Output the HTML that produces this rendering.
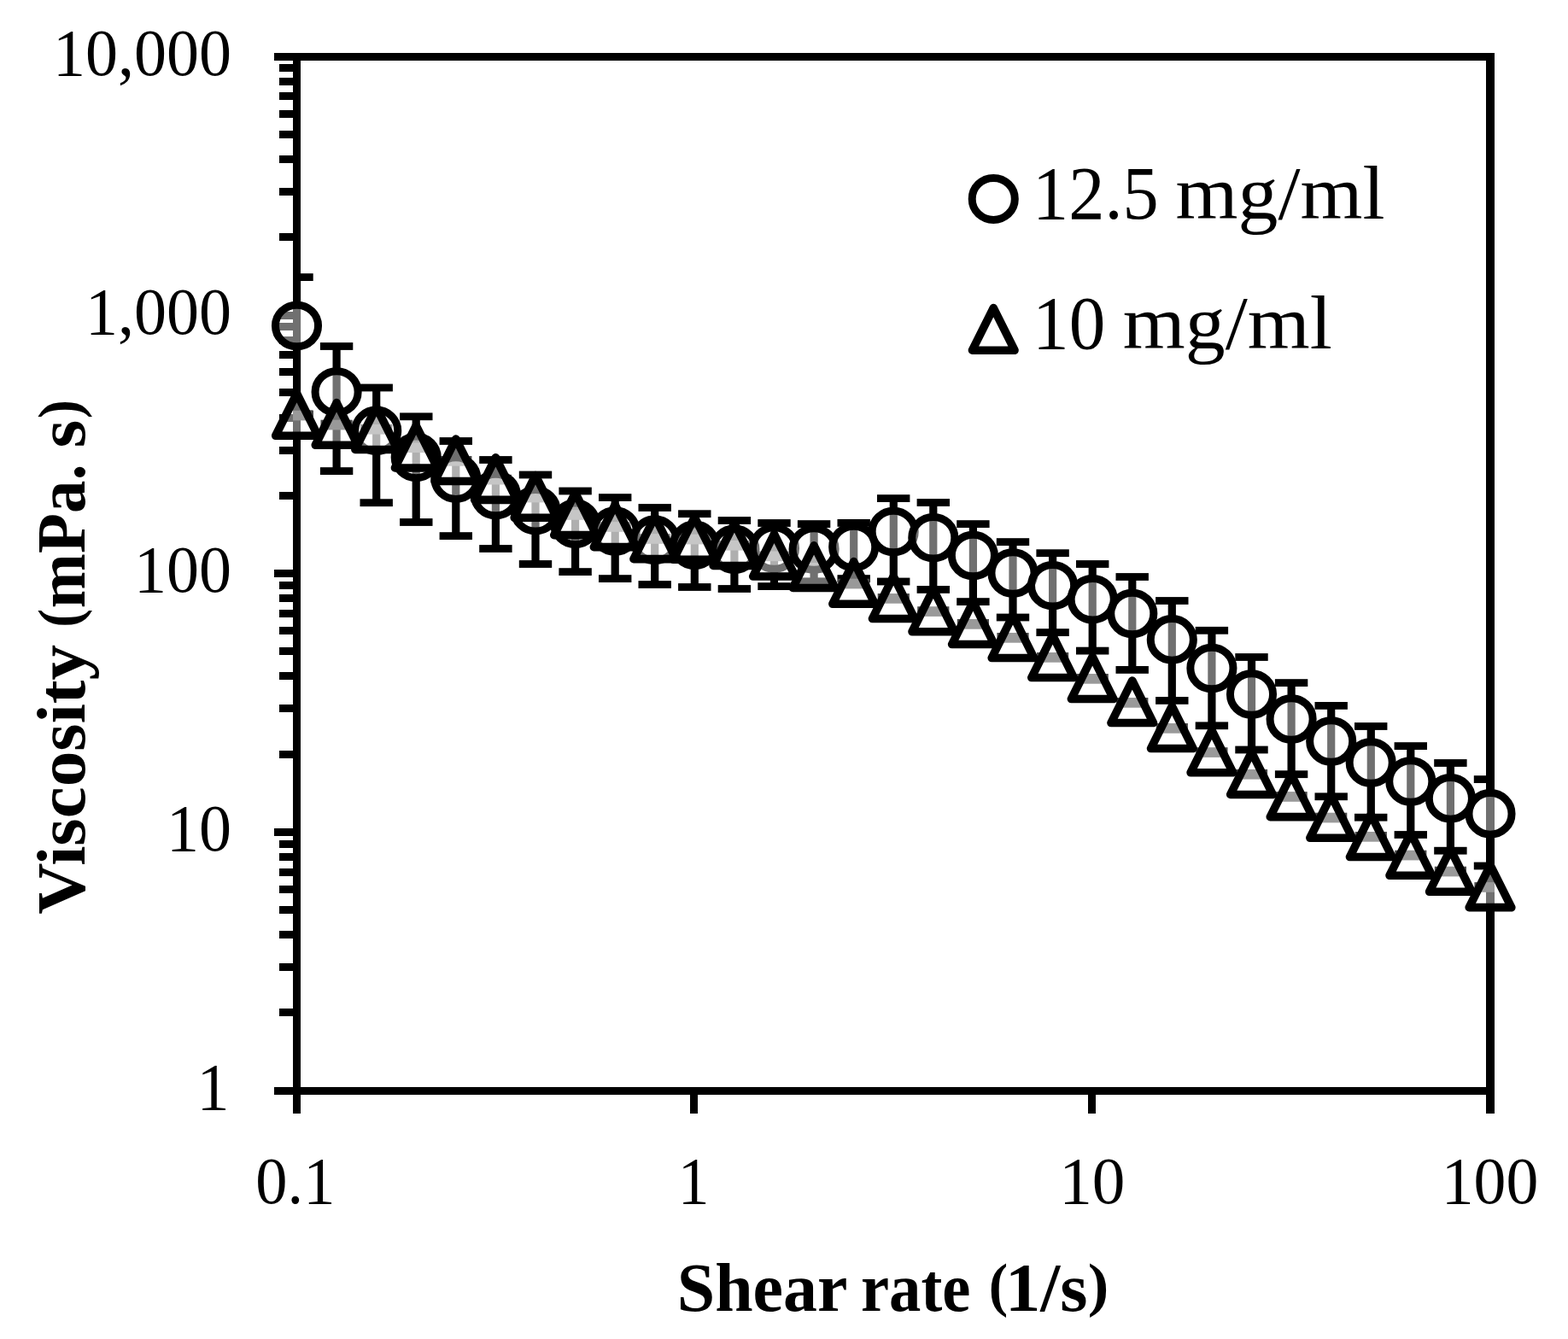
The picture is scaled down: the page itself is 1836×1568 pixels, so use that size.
<!DOCTYPE html>
<html lang="en"><head><meta charset="utf-8"><title>Viscosity vs shear rate</title>
<style>html,body{margin:0;padding:0;background:#fff}body{width:1836px;height:1568px}svg{display:block}text{font-family:"Liberation Serif","DejaVu Serif",serif;fill:#000}.b{font-weight:bold}</style></head><body>
<svg width="1836" height="1568" viewBox="0 0 1836 1568">
<rect width="1836" height="1568" fill="#fff"/>
<defs><clipPath id="pa"><rect x="343" y="62" width="1407" height="1220"/></clipPath></defs>
<g fill="#000" shape-rendering="crispEdges">
<rect x="343" y="62" width="1407" height="9"/>
<rect x="343" y="1273" width="1407" height="9"/>
<rect x="343" y="62" width="9" height="1220"/>
<rect x="1740" y="62" width="10" height="1242"/>
<rect x="321" y="62" width="24" height="9"/>
<rect x="327" y="273" width="18" height="9"/>
<rect x="327" y="220" width="18" height="9"/>
<rect x="327" y="182" width="18" height="9"/>
<rect x="327" y="153" width="18" height="9"/>
<rect x="327" y="129" width="18" height="9"/>
<rect x="327" y="108" width="18" height="9"/>
<rect x="327" y="91" width="18" height="9"/>
<rect x="327" y="75" width="18" height="9"/>
<rect x="325" y="365" width="20" height="9"/>
<rect x="327" y="576" width="18" height="9"/>
<rect x="327" y="523" width="18" height="9"/>
<rect x="327" y="485" width="18" height="9"/>
<rect x="327" y="455" width="18" height="9"/>
<rect x="327" y="431" width="18" height="9"/>
<rect x="327" y="411" width="18" height="9"/>
<rect x="327" y="394" width="18" height="9"/>
<rect x="327" y="378" width="18" height="9"/>
<rect x="321" y="667" width="24" height="9"/>
<rect x="327" y="879" width="18" height="9"/>
<rect x="327" y="825" width="18" height="9"/>
<rect x="327" y="787" width="18" height="9"/>
<rect x="327" y="758" width="18" height="9"/>
<rect x="327" y="734" width="18" height="9"/>
<rect x="327" y="714" width="18" height="9"/>
<rect x="327" y="696" width="18" height="9"/>
<rect x="327" y="681" width="18" height="9"/>
<rect x="321" y="970" width="24" height="9"/>
<rect x="327" y="1181" width="18" height="9"/>
<rect x="327" y="1128" width="18" height="9"/>
<rect x="327" y="1090" width="18" height="9"/>
<rect x="327" y="1061" width="18" height="9"/>
<rect x="327" y="1037" width="18" height="9"/>
<rect x="327" y="1017" width="18" height="9"/>
<rect x="327" y="999" width="18" height="9"/>
<rect x="327" y="984" width="18" height="9"/>
<rect x="321" y="1273" width="24" height="9"/>
<rect x="343" y="1273" width="9" height="31"/>
<rect x="808" y="1273" width="9" height="31"/>
<rect x="1274" y="1273" width="9" height="31"/>
</g>
<text transform="translate(271.00,87.80) scale(1.014,1.032)" font-size="75" text-anchor="end">10,000</text>
<text transform="translate(271.00,390.55) scale(1.014,1.032)" font-size="75" text-anchor="end">1,000</text>
<text transform="translate(271.00,693.30) scale(1.014,1.032)" font-size="75" text-anchor="end">100</text>
<text transform="translate(271.00,996.05) scale(1.014,1.032)" font-size="75" text-anchor="end">10</text>
<text transform="translate(268.50,1298.80) scale(1.014,1.032)" font-size="75" text-anchor="end">1</text>
<text transform="translate(345.90,1409.30) scale(0.993,1.032)" font-size="75" text-anchor="middle">0.1</text>
<text transform="translate(812.13,1409.30) scale(0.98,1.032)" font-size="75" text-anchor="middle">1</text>
<text transform="translate(1278.87,1409.30) scale(1.03,1.032)" font-size="75" text-anchor="middle">10</text>
<text transform="translate(1744.50,1409.30) scale(1.01,1.032)" font-size="75" text-anchor="middle">100</text>
<text class="b" xml:space="preserve" transform="translate(0,1534.7) scale(1,1.06)" font-size="75"><tspan x="792.83" y="0" textLength="218.00" lengthAdjust="spacingAndGlyphs">Shear </tspan><tspan x="1008.00" y="0" textLength="147.10" lengthAdjust="spacingAndGlyphs">rate </tspan><tspan x="1157.80" y="-6.1" textLength="22.40" lengthAdjust="spacingAndGlyphs" font-size="65">(</tspan><tspan x="1176.90" y="0" textLength="96.60" lengthAdjust="spacingAndGlyphs">1/s</tspan><tspan x="1273.70" y="-6.1" textLength="24.60" lengthAdjust="spacingAndGlyphs" font-size="65">)</tspan></text>
<text class="b" xml:space="preserve" transform="translate(99,1070.4) rotate(-90) scale(1,1.06)" font-size="75"><tspan x="-0.40" y="0" textLength="336.80" lengthAdjust="spacingAndGlyphs">Viscosity </tspan><tspan x="335.70" y="-6.1" textLength="21.90" lengthAdjust="spacingAndGlyphs" font-size="65">(</tspan><tspan x="358.20" y="0" textLength="188.10" lengthAdjust="spacingAndGlyphs">mPa. </tspan><tspan x="546.00" y="0" textLength="32.90" lengthAdjust="spacingAndGlyphs">s</tspan><tspan x="580.10" y="-6.1" textLength="22.30" lengthAdjust="spacingAndGlyphs" font-size="65">)</tspan></text>
<ellipse cx="1163.25" cy="232.9" rx="25.05" ry="24.5" fill="none" stroke="#000" stroke-width="9"/>
<path d="M1163.25 360.6 L1188.05 410.2 L1138.45 410.2 Z" fill="none" stroke="#000" stroke-width="9.6" stroke-linejoin="round"/>
<text xml:space="preserve" transform="translate(0,256) scale(1,1.065)" font-size="83.33"><tspan x="1209.10" y="0" textLength="168.60" lengthAdjust="spacingAndGlyphs">12.5 </tspan><tspan x="1376.50" y="0" textLength="245.00" lengthAdjust="spacingAndGlyphs">mg/ml</tspan></text>
<text xml:space="preserve" transform="translate(0,408.4) scale(1,1.065)" font-size="83.33"><tspan x="1209.00" y="0" textLength="106.60" lengthAdjust="spacingAndGlyphs">10 </tspan><tspan x="1314.75" y="0" textLength="245.00" lengthAdjust="spacingAndGlyphs">mg/ml</tspan></text>
<g clip-path="url(#pa)" fill="#000">
<rect x="342.9" y="324.6" width="9.2" height="160.4"/>
<rect x="328.3" y="320.2" width="38.4" height="8.8"/>
<rect x="328.3" y="480.6" width="38.4" height="8.8"/>
<rect x="389.5" y="405.5" width="9.2" height="146.1"/>
<rect x="374.9" y="401.1" width="38.4" height="8.8"/>
<rect x="374.9" y="547.2" width="38.4" height="8.8"/>
<rect x="436.1" y="454.0" width="9.2" height="134.7"/>
<rect x="421.5" y="449.6" width="38.4" height="8.8"/>
<rect x="421.5" y="584.3" width="38.4" height="8.8"/>
<rect x="482.6" y="487.8" width="9.2" height="123.7"/>
<rect x="468.1" y="483.4" width="38.4" height="8.8"/>
<rect x="468.1" y="607.1" width="38.4" height="8.8"/>
<rect x="529.2" y="516.5" width="9.2" height="111.1"/>
<rect x="514.6" y="512.1" width="38.4" height="8.8"/>
<rect x="514.6" y="623.2" width="38.4" height="8.8"/>
<rect x="575.8" y="538.5" width="9.2" height="104.0"/>
<rect x="561.2" y="534.1" width="38.4" height="8.8"/>
<rect x="561.2" y="638.1" width="38.4" height="8.8"/>
<rect x="622.4" y="556.0" width="9.2" height="104.5"/>
<rect x="607.8" y="551.6" width="38.4" height="8.8"/>
<rect x="607.8" y="656.1" width="38.4" height="8.8"/>
<rect x="669.0" y="575.0" width="9.2" height="94.6"/>
<rect x="654.4" y="570.6" width="38.4" height="8.8"/>
<rect x="654.4" y="665.2" width="38.4" height="8.8"/>
<rect x="715.6" y="582.6" width="9.2" height="95.0"/>
<rect x="701.0" y="578.2" width="38.4" height="8.8"/>
<rect x="701.0" y="673.2" width="38.4" height="8.8"/>
<rect x="762.1" y="594.5" width="9.2" height="90.0"/>
<rect x="747.5" y="590.1" width="38.4" height="8.8"/>
<rect x="747.5" y="680.1" width="38.4" height="8.8"/>
<rect x="808.7" y="601.7" width="9.2" height="85.8"/>
<rect x="794.1" y="597.3" width="38.4" height="8.8"/>
<rect x="794.1" y="683.1" width="38.4" height="8.8"/>
<rect x="855.3" y="609.5" width="9.2" height="80.0"/>
<rect x="840.7" y="605.1" width="38.4" height="8.8"/>
<rect x="840.7" y="685.1" width="38.4" height="8.8"/>
<rect x="901.9" y="612.5" width="9.2" height="74.1"/>
<rect x="887.3" y="608.1" width="38.4" height="8.8"/>
<rect x="887.3" y="682.2" width="38.4" height="8.8"/>
<rect x="948.5" y="613.6" width="9.2" height="67.2"/>
<rect x="933.9" y="609.2" width="38.4" height="8.8"/>
<rect x="933.9" y="676.4" width="38.4" height="8.8"/>
<rect x="995.1" y="612.4" width="9.2" height="65.2"/>
<rect x="980.5" y="608.0" width="38.4" height="8.8"/>
<rect x="980.5" y="673.2" width="38.4" height="8.8"/>
<rect x="1041.7" y="583.6" width="9.2" height="97.4"/>
<rect x="1027.0" y="579.2" width="38.4" height="8.8"/>
<rect x="1027.0" y="676.6" width="38.4" height="8.8"/>
<rect x="1088.2" y="588.5" width="9.2" height="101.9"/>
<rect x="1073.6" y="584.1" width="38.4" height="8.8"/>
<rect x="1073.6" y="686.0" width="38.4" height="8.8"/>
<rect x="1134.8" y="613.6" width="9.2" height="91.0"/>
<rect x="1120.2" y="609.2" width="38.4" height="8.8"/>
<rect x="1120.2" y="700.2" width="38.4" height="8.8"/>
<rect x="1181.4" y="634.6" width="9.2" height="88.4"/>
<rect x="1166.8" y="630.2" width="38.4" height="8.8"/>
<rect x="1166.8" y="718.6" width="38.4" height="8.8"/>
<rect x="1228.0" y="647.7" width="9.2" height="92.9"/>
<rect x="1213.4" y="643.3" width="38.4" height="8.8"/>
<rect x="1213.4" y="736.2" width="38.4" height="8.8"/>
<rect x="1274.6" y="660.5" width="9.2" height="101.6"/>
<rect x="1260.0" y="656.1" width="38.4" height="8.8"/>
<rect x="1260.0" y="757.7" width="38.4" height="8.8"/>
<rect x="1321.2" y="675.5" width="9.2" height="108.9"/>
<rect x="1306.5" y="671.1" width="38.4" height="8.8"/>
<rect x="1306.5" y="780.0" width="38.4" height="8.8"/>
<rect x="1367.7" y="703.5" width="9.2" height="116.9"/>
<rect x="1353.1" y="699.1" width="38.4" height="8.8"/>
<rect x="1353.1" y="816.0" width="38.4" height="8.8"/>
<rect x="1414.3" y="738.3" width="9.2" height="111.5"/>
<rect x="1399.7" y="733.9" width="38.4" height="8.8"/>
<rect x="1399.7" y="845.4" width="38.4" height="8.8"/>
<rect x="1460.9" y="769.5" width="9.2" height="108.5"/>
<rect x="1446.3" y="765.1" width="38.4" height="8.8"/>
<rect x="1446.3" y="873.6" width="38.4" height="8.8"/>
<rect x="1507.5" y="799.6" width="9.2" height="107.1"/>
<rect x="1492.9" y="795.2" width="38.4" height="8.8"/>
<rect x="1492.9" y="902.3" width="38.4" height="8.8"/>
<rect x="1554.1" y="826.4" width="9.2" height="106.4"/>
<rect x="1539.5" y="822.0" width="38.4" height="8.8"/>
<rect x="1539.5" y="928.4" width="38.4" height="8.8"/>
<rect x="1600.7" y="850.5" width="9.2" height="106.7"/>
<rect x="1586.0" y="846.1" width="38.4" height="8.8"/>
<rect x="1586.0" y="952.8" width="38.4" height="8.8"/>
<rect x="1647.2" y="873.6" width="9.2" height="103.9"/>
<rect x="1632.6" y="869.2" width="38.4" height="8.8"/>
<rect x="1632.6" y="973.1" width="38.4" height="8.8"/>
<rect x="1693.8" y="893.5" width="9.2" height="102.7"/>
<rect x="1679.2" y="889.1" width="38.4" height="8.8"/>
<rect x="1679.2" y="991.8" width="38.4" height="8.8"/>
<rect x="1740.4" y="912.6" width="9.2" height="101.4"/>
<rect x="1725.8" y="908.2" width="38.4" height="8.8"/>
<rect x="1725.8" y="1009.6" width="38.4" height="8.8"/>
</g>
<g clip-path="url(#pa)" fill="#494949">
<rect x="328.9" y="480.7" width="37.2" height="11.7"/>
<rect x="375.5" y="491.7" width="37.2" height="11.7"/>
<rect x="422.1" y="496.9" width="37.2" height="11.7"/>
<rect x="468.6" y="518.4" width="37.2" height="11.7"/>
<rect x="515.2" y="534.0" width="37.2" height="11.7"/>
<rect x="561.8" y="555.8" width="37.2" height="11.7"/>
<rect x="608.4" y="576.7" width="37.2" height="11.7"/>
<rect x="655.0" y="597.1" width="37.2" height="11.7"/>
<rect x="701.6" y="611.1" width="37.2" height="11.7"/>
<rect x="748.1" y="625.1" width="37.2" height="11.7"/>
<rect x="794.7" y="625.7" width="37.2" height="11.7"/>
<rect x="841.3" y="632.9" width="37.2" height="11.7"/>
<rect x="887.9" y="645.5" width="37.2" height="11.7"/>
<rect x="934.5" y="658.9" width="37.2" height="11.7"/>
<rect x="981.1" y="677.7" width="37.2" height="11.7"/>
<rect x="1027.7" y="695.0" width="37.2" height="11.7"/>
<rect x="1074.2" y="710.2" width="37.2" height="11.7"/>
<rect x="1120.8" y="725.0" width="37.2" height="11.7"/>
<rect x="1167.4" y="741.0" width="37.2" height="11.7"/>
<rect x="1214.0" y="764.0" width="37.2" height="11.7"/>
<rect x="1260.6" y="789.0" width="37.2" height="11.7"/>
<rect x="1307.2" y="817.0" width="37.2" height="11.7"/>
<rect x="1353.7" y="847.0" width="37.2" height="11.7"/>
<rect x="1400.3" y="875.2" width="37.2" height="11.7"/>
<rect x="1446.9" y="900.9" width="37.2" height="11.7"/>
<rect x="1493.5" y="927.1" width="37.2" height="11.7"/>
<rect x="1540.1" y="951.7" width="37.2" height="11.7"/>
<rect x="1586.7" y="974.0" width="37.2" height="11.7"/>
<rect x="1633.2" y="995.7" width="37.2" height="11.7"/>
<rect x="1679.8" y="1014.7" width="37.2" height="11.7"/>
<rect x="1726.4" y="1033.1" width="37.2" height="11.7"/>
</g>
<g fill="#fff" fill-opacity="0.44" stroke="#000" stroke-width="9">
<ellipse cx="347.5" cy="381.5" rx="25.05" ry="24.3"/>
<ellipse cx="394.1" cy="459.0" rx="25.05" ry="24.3"/>
<ellipse cx="440.7" cy="504.3" rx="25.05" ry="24.3"/>
<ellipse cx="487.2" cy="535.4" rx="25.05" ry="24.3"/>
<ellipse cx="533.8" cy="560.1" rx="25.05" ry="24.3"/>
<ellipse cx="580.4" cy="579.5" rx="25.05" ry="24.3"/>
<ellipse cx="627.0" cy="597.7" rx="25.05" ry="24.3"/>
<ellipse cx="673.6" cy="613.4" rx="25.05" ry="24.3"/>
<ellipse cx="720.2" cy="622.0" rx="25.05" ry="24.3"/>
<ellipse cx="766.8" cy="632.3" rx="25.05" ry="24.3"/>
<ellipse cx="813.3" cy="638.4" rx="25.05" ry="24.3"/>
<ellipse cx="859.9" cy="643.3" rx="25.05" ry="24.3"/>
<ellipse cx="906.5" cy="642.0" rx="25.05" ry="24.3"/>
<ellipse cx="953.1" cy="643.0" rx="25.05" ry="24.3"/>
<ellipse cx="999.7" cy="640.5" rx="25.05" ry="24.3"/>
<ellipse cx="1046.2" cy="622.5" rx="25.05" ry="24.3"/>
<ellipse cx="1092.8" cy="629.7" rx="25.05" ry="24.3"/>
<ellipse cx="1139.4" cy="650.5" rx="25.05" ry="24.3"/>
<ellipse cx="1186.0" cy="671.0" rx="25.05" ry="24.3"/>
<ellipse cx="1232.6" cy="685.7" rx="25.05" ry="24.3"/>
<ellipse cx="1279.2" cy="701.7" rx="25.05" ry="24.3"/>
<ellipse cx="1325.8" cy="718.5" rx="25.05" ry="24.3"/>
<ellipse cx="1372.3" cy="748.9" rx="25.05" ry="24.3"/>
<ellipse cx="1418.9" cy="782.5" rx="25.05" ry="24.3"/>
<ellipse cx="1465.5" cy="813.0" rx="25.05" ry="24.3"/>
<ellipse cx="1512.1" cy="842.0" rx="25.05" ry="24.3"/>
<ellipse cx="1558.7" cy="868.0" rx="25.05" ry="24.3"/>
<ellipse cx="1605.2" cy="893.0" rx="25.05" ry="24.3"/>
<ellipse cx="1651.8" cy="915.0" rx="25.05" ry="24.3"/>
<ellipse cx="1698.4" cy="934.9" rx="25.05" ry="24.3"/>
<ellipse cx="1745.0" cy="952.9" rx="25.05" ry="24.3"/>
</g>
<g fill="#fff" fill-opacity="0.44" stroke="#000" stroke-width="9.6" stroke-linejoin="round">
<path d="M347.5 460.65 L372.30 510.25 L322.70 510.25 Z"/>
<path d="M394.1 471.65 L418.88 521.25 L369.28 521.25 Z"/>
<path d="M440.7 476.85 L465.47 526.45 L415.87 526.45 Z"/>
<path d="M487.2 498.35 L512.05 547.95 L462.45 547.95 Z"/>
<path d="M533.8 513.95 L558.63 563.55 L509.03 563.55 Z"/>
<path d="M580.4 535.75 L605.22 585.35 L555.62 585.35 Z"/>
<path d="M627.0 556.65 L651.80 606.25 L602.20 606.25 Z"/>
<path d="M673.6 577.05 L698.38 626.65 L648.78 626.65 Z"/>
<path d="M720.2 591.05 L744.97 640.65 L695.37 640.65 Z"/>
<path d="M766.8 605.05 L791.55 654.65 L741.95 654.65 Z"/>
<path d="M813.3 605.65 L838.13 655.25 L788.53 655.25 Z"/>
<path d="M859.9 612.85 L884.72 662.45 L835.12 662.45 Z"/>
<path d="M906.5 625.45 L931.30 675.05 L881.70 675.05 Z"/>
<path d="M953.1 638.85 L977.88 688.45 L928.28 688.45 Z"/>
<path d="M999.7 657.65 L1024.47 707.25 L974.87 707.25 Z"/>
<path d="M1046.2 674.95 L1071.05 724.55 L1021.45 724.55 Z"/>
<path d="M1092.8 690.15 L1117.63 739.75 L1068.03 739.75 Z"/>
<path d="M1139.4 704.95 L1164.22 754.55 L1114.62 754.55 Z"/>
<path d="M1186.0 720.95 L1210.80 770.55 L1161.20 770.55 Z"/>
<path d="M1232.6 743.95 L1257.38 793.55 L1207.78 793.55 Z"/>
<path d="M1279.2 768.95 L1303.97 818.55 L1254.37 818.55 Z"/>
<path d="M1325.8 796.95 L1350.55 846.55 L1300.95 846.55 Z"/>
<path d="M1372.3 826.95 L1397.13 876.55 L1347.53 876.55 Z"/>
<path d="M1418.9 855.15 L1443.72 904.75 L1394.12 904.75 Z"/>
<path d="M1465.5 880.85 L1490.30 930.45 L1440.70 930.45 Z"/>
<path d="M1512.1 907.05 L1536.88 956.65 L1487.28 956.65 Z"/>
<path d="M1558.7 931.65 L1583.47 981.25 L1533.87 981.25 Z"/>
<path d="M1605.2 953.95 L1630.05 1003.55 L1580.45 1003.55 Z"/>
<path d="M1651.8 975.65 L1676.63 1025.25 L1627.03 1025.25 Z"/>
<path d="M1698.4 994.65 L1723.22 1044.25 L1673.62 1044.25 Z"/>
<path d="M1745.0 1013.05 L1769.80 1062.65 L1720.20 1062.65 Z"/>
</g>
</svg></body></html>
